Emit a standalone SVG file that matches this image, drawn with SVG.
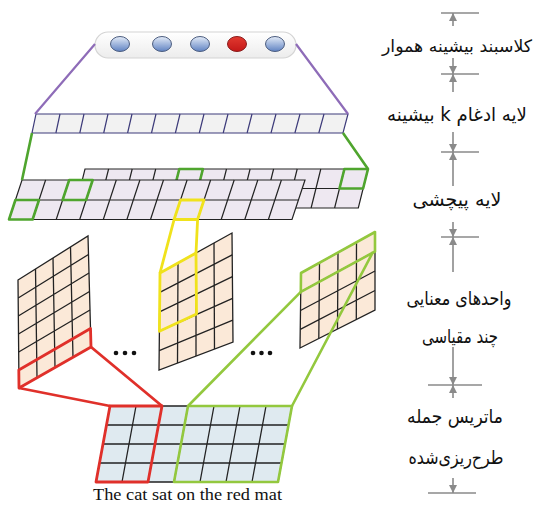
<svg xmlns="http://www.w3.org/2000/svg" width="537" height="505" viewBox="0 0 537 505">
  <defs>
    <linearGradient id="pillFill" x1="0" y1="0" x2="0" y2="1">
      <stop offset="0" stop-color="#ffffff"/>
      <stop offset="1" stop-color="#ececec"/>
    </linearGradient>
    <linearGradient id="blueBall" x1="0" y1="0" x2="0" y2="1">
      <stop offset="0" stop-color="#e4ecf8"/>
      <stop offset="1" stop-color="#5f82c2"/>
    </linearGradient>
    <linearGradient id="redBall" x1="0" y1="0" x2="0" y2="1">
      <stop offset="0" stop-color="#e23a30"/>
      <stop offset="1" stop-color="#c41818"/>
    </linearGradient>
    <marker id="tip" viewBox="0 0 8 8" refX="8" refY="4" markerWidth="8" markerHeight="8" markerUnits="userSpaceOnUse" orient="auto-start-reverse">
      <path d="M0,0 L8,4 L0,8 Z" fill="#8a8a8a"/>
    </marker>
  </defs>
  <style>
    .peach { fill: #fbe9d8; stroke: #222; stroke-width: 1.3; }
    .peachline { fill: none; stroke: #222; stroke-width: 1.3; }
    .sheet { fill: #eee8f1; stroke: #222; stroke-width: 1.2; }
    .sheetline { fill: none; stroke: #222; stroke-width: 1.2; }
    .pool { fill: #f2f2f2; stroke: #3d3b7a; stroke-width: 1.2; }
    .poolline { fill: none; stroke: #3d3b7a; stroke-width: 1.2; }
    .mat { fill: #dfeaf0; stroke: #222; stroke-width: 1.3; }
    .matline { fill: none; stroke: #222; stroke-width: 1.3; }
    .green { fill: none; stroke: #4fa52e; stroke-width: 2.6; stroke-linejoin: round; }
    .lime { fill: none; stroke: #93c83e; stroke-width: 2.6; stroke-linejoin: round; }
    .red { fill: none; stroke: #e0302a; stroke-width: 2.8; stroke-linejoin: round; }
    .yellow { fill: none; stroke: #f0e21c; stroke-width: 2.8; stroke-linejoin: round; }
    .purple { fill: none; stroke: #8e6cb8; stroke-width: 2.2; }
    .axis { fill: none; stroke: #8a8a8a; stroke-width: 1.6; }
    .fa { font-family: "DejaVu Sans", "Liberation Serif", serif; font-size: 19px; fill: #111; direction: rtl; unicode-bidi: embed; text-anchor: middle; }
    .en { font-family: "Liberation Serif", "DejaVu Serif", serif; font-size: 16px; fill: #111; }
    .dot { fill: #111; }
  </style>

  <!-- output classifier -->
  <g id="classifier">
    <rect x="95" y="32" width="201" height="26" rx="13" fill="url(#pillFill)" stroke="#d4d4d4" stroke-width="1.2"/>
    <ellipse cx="120" cy="44" rx="9.5" ry="7.5" fill="url(#blueBall)" stroke="#4d5e80" stroke-width="1"/>
    <ellipse cx="162" cy="44" rx="9.5" ry="7.5" fill="url(#blueBall)" stroke="#4d5e80" stroke-width="1"/>
    <ellipse cx="200" cy="44" rx="9.5" ry="7.5" fill="url(#blueBall)" stroke="#4d5e80" stroke-width="1"/>
    <ellipse cx="237" cy="44" rx="9.5" ry="7.5" fill="url(#redBall)" stroke="#8a1d1d" stroke-width="1"/>
    <ellipse cx="275" cy="44" rx="9.5" ry="7.5" fill="url(#blueBall)" stroke="#4d5e80" stroke-width="1"/>
  </g>

  <!-- k-max pooling row -->
  <g id="pooling">
    <path class="pool" d="M36,114 L348,114 L343,133 L32,133 Z"/>
    <path class="poolline" d="M60,114 L55.9,133 M84,114 L79.8,133 M108,114 L103.7,133 M132,114 L127.6,133 M156,114 L151.5,133 M180,114 L175.4,133 M204,114 L199.3,133 M228,114 L223.2,133 M252,114 L247.1,133 M276,114 L271,133 M300,114 L294.9,133 M324,114 L318.8,133"/>
  </g>

  <!-- convolution layer: back sheet then front sheet -->
  <g id="convolution">
    <path class="sheet" d="M85,169 L368,169 L358.3,208 L75.3,208 Z"/>
    <path class="sheetline" d="M80.1,188.5 L363.1,188.5 M108.6,169 L98.8,208 M132.2,169 L122.4,208 M155.7,169 L146,208 M179.3,169 L169.6,208 M202.9,169 L193.1,208 M226.5,169 L216.7,208 M250.1,169 L240.3,208 M273.6,169 L263.9,208 M297.2,169 L287.5,208 M320.8,169 L311.1,208 M344.4,169 L334.6,208"/>
    <path class="green" d="M179.3,169 L202.9,169 L198,188.5 L174.4,188.5 Z"/>
    <path class="green" d="M344.4,169 L368,169 L363.1,188.5 L339.5,188.5 Z"/>
    <path class="sheet" d="M22,180 L305,180 L292,219.5 L9,219.5 Z"/>
    <path class="sheetline" d="M15.4,200 L298.4,200 M45.6,180 L32.6,219.5 M69.2,180 L56.2,219.5 M92.7,180 L79.7,219.5 M116.3,180 L103.3,219.5 M139.9,180 L126.9,219.5 M163.5,180 L150.5,219.5 M187.1,180 L174.1,219.5 M210.6,180 L197.6,219.5 M234.2,180 L221.2,219.5 M257.8,180 L244.8,219.5 M281.4,180 L268.4,219.5"/>
    <path class="green" d="M69.2,180 L92.7,180 L86.1,200 L62.6,200 Z"/>
    <path class="green" d="M15.4,200 L39,200 L32.6,219.5 L9,219.5 Z"/>
    <path class="yellow" d="M180.5,200 L204,200 L197.6,219.5 L174.1,219.5 Z"/>
  </g>

  <!-- multi-scale feature maps -->
  <g id="map-left">
    <path class="peach" d="M18,280 L88,236 L91,347 L19,388 Z"/>
    <path class="peachline" d="M35.5,269 L37,377.8 M53,258 L55,367.5 M70.5,247 L73,357.3 M18.2,298 L88.5,254.5 M18.3,316 L89,273 M18.5,334 L89.5,291.5 M18.7,352 L90,310 M18.8,370 L90.5,328.5"/>
    <path class="red" d="M18.8,370 L90.5,328.5 L91,347 L19,388 Z"/>
  </g>
  <g id="map-middle">
    <path class="peach" d="M160,273 L232,233 L233,342 L159,370 Z"/>
    <path class="peachline" d="M178,263 L177.5,363 M196,253 L196,356 M214,243 L214.5,349 M159.8,292.4 L232.2,254.8 M159.6,311.8 L232.4,276.6 M159.4,331.2 L232.6,298.4 M159.2,350.6 L232.8,320.2"/>
    <path class="yellow" d="M160,273 L196,253 L196.5,314 L159.4,331.2 Z"/>
  </g>
  <g id="map-right">
    <path class="peach" d="M301,273 L375,232 L375,310 L300,348 Z"/>
    <path class="peachline" d="M319.5,262.8 L318.8,338.5 M338,252.5 L337.5,329 M356.5,242.3 L356.3,319.5 M300.8,291.8 L375,251.5 M300.5,310.5 L375,271 M300.3,329.3 L375,290.5"/>
    <path class="lime" d="M301,273 L375,232 L375,251.5 L300.8,291.8 Z"/>
  </g>
  <g id="ellipsis">
    <circle class="dot" cx="116" cy="353" r="2.3"/>
    <circle class="dot" cx="125" cy="353" r="2.3"/>
    <circle class="dot" cx="134" cy="353" r="2.3"/>
    <circle class="dot" cx="253" cy="353" r="2.3"/>
    <circle class="dot" cx="261.5" cy="353" r="2.3"/>
    <circle class="dot" cx="270" cy="353" r="2.3"/>
  </g>

  <!-- projected sentence matrix -->
  <g id="sentence-matrix">
    <path class="mat" d="M110,406 L292,406 L278,482 L96,482 Z"/>
    <path class="matline" d="M106.5,425 L288.5,425 M103,444 L285,444 M99.5,463 L281.5,463 M136,406 L122,482 M162,406 L148,482 M188,406 L174,482 M214,406 L200,482 M240,406 L226,482 M266,406 L252,482"/>
    <path class="red" d="M110,406 L162,406 L148,482 L96,482 Z"/>
    <path class="lime" d="M188,406 L292,406 L278,482 L174,482 Z"/>
    <text class="en" x="93" y="500" textLength="189" lengthAdjust="spacingAndGlyphs">The cat sat on the red mat</text>
  </g>

  <!-- connectors between layers -->
  <g id="connectors">
    <path class="purple" d="M95,44 L35,114 M296,44 L348,114"/>
    <path class="green" d="M32,133 L22,180 M343,133 L368,169"/>
    <path class="yellow" d="M174.1,219.5 L160,273 M197.6,219.5 L196,253"/>
    <path class="red" d="M19,388 L110,406 M91,347 L162,406"/>
    <path class="lime" d="M300.8,291.8 L188,406 M373,252 L292,406"/>
  </g>

  <!-- layer scale on the right -->
  <g id="scale">
    <path class="axis" d="M441,13 L479,13 M441,74 L479,74 M441,152 L479,152 M441,237 L479,237 M428,385 L482,385 M428,493 L476,493"/>
    <path class="axis" marker-start="url(#tip)" d="M453,13 L453,26"/>
    <path class="axis" marker-end="url(#tip)" d="M453,58 L453,74"/>
    <path class="axis" marker-start="url(#tip)" d="M453,74 L453,92"/>
    <path class="axis" marker-end="url(#tip)" d="M453,132 L453,152"/>
    <path class="axis" marker-start="url(#tip)" d="M453,152 L453,186"/>
    <path class="axis" marker-end="url(#tip)" d="M453,222 L453,237"/>
    <path class="axis" marker-start="url(#tip)" d="M453,237 L453,272"/>
    <path class="axis" marker-end="url(#tip)" d="M453,347 L453,385"/>
    <path class="axis" marker-start="url(#tip)" d="M453,385 L453,398"/>
    <path class="axis" marker-end="url(#tip)" d="M453,478 L453,493"/>
  </g>

  <g id="labels">
    <text class="fa" x="457" y="52" style="font-size:17px" textLength="150" lengthAdjust="spacingAndGlyphs">کلاسبند بیشینه هموار</text>
    <text class="fa" x="457" y="121" textLength="140" lengthAdjust="spacingAndGlyphs">لایه ادغام k بیشینه</text>
    <text class="fa" x="457" y="206" textLength="89" lengthAdjust="spacingAndGlyphs">لایه پیچشی</text>
    <text class="fa" x="459" y="305" textLength="105" lengthAdjust="spacingAndGlyphs">واحدهای معنایی</text>
    <text class="fa" x="460" y="343" textLength="76" lengthAdjust="spacingAndGlyphs">چند مقیاسی</text>
    <text class="fa" x="455" y="423" textLength="96" lengthAdjust="spacingAndGlyphs">ماتریس جمله</text>
    <text class="fa" x="456" y="464" textLength="95" lengthAdjust="spacingAndGlyphs">طرح‌ریزی‌شده</text>
  </g>
</svg>
